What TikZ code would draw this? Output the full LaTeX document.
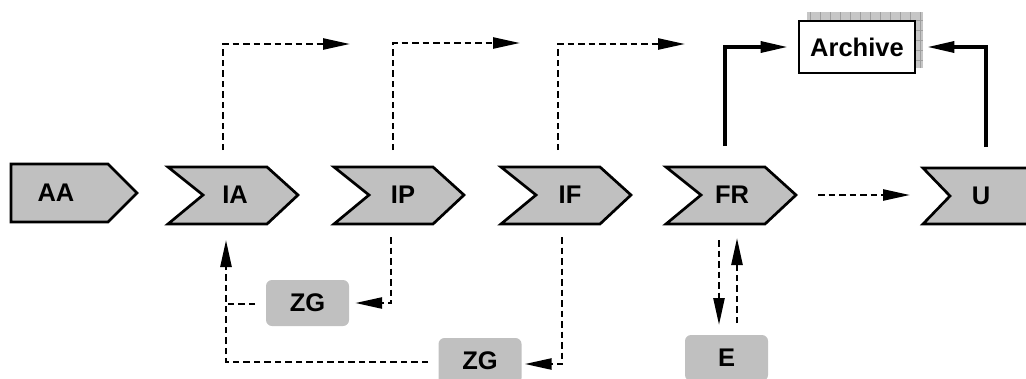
\documentclass[tikz,border=0pt]{standalone}
\usepackage{fontspec}
\setmainfont{Liberation Sans}
\usetikzlibrary{arrows.meta}
\definecolor{boxgray}{HTML}{C0C0C0}
\tikzset{
  lbl/.style={font=\fontsize{25.5}{28}\selectfont\bfseries, inner sep=0pt},
  chevshape/.style={draw=black, fill=boxgray, line width=2.7pt, line join=miter},
  gbox/.style={lbl, fill=boxgray, rounded corners=6pt, minimum width=83pt, minimum height=46pt},
  dconn/.style={line width=2.5pt, dash pattern=on 6.5pt off 4pt, -{Triangle[length=27pt,width=11pt]}},
  dline/.style={line width=2.5pt, dash pattern=on 6.5pt off 4pt},
  sconn/.style={line width=3.3pt, -{Triangle[length=27pt,width=11pt]}},
}
\newcommand\chevronat[1]{\path[chevshape] (#1,167) -- ++(99,0) -- ++(31,28) -- ++(-31,29) -- ++(-99,0) -- ++(35,-29) -- cycle;}
\begin{document}
\begin{tikzpicture}[x=1pt,y=-1pt]
\useasboundingbox (0,0) rectangle (1026,378);
% process shapes
\path[chevshape] (11,164) -- (108,164) -- (137,193) -- (108,222) -- (11,222) -- cycle;
\chevronat{168}
\chevronat{334}
\chevronat{501}
\chevronat{666}
\path[chevshape] (923,168) -- (1032,168) -- (1032,224) -- (923,224) -- (950,196) -- cycle;
\node[lbl] (AA) at (56,193) {AA};
\node[lbl] (IA) at (235,195) {IA};
\node[lbl] (IP) at (403,195) {IP};
\node[lbl] (IF) at (570,195) {IF};
\node[lbl] (FR) at (732,195) {FR};
\node[lbl] (U)  at (981,196) {U};
% archive
\fill[gray!45] (807,12) rectangle (923,68);
\draw[gray!75, line width=0.4pt, step=10pt] (807,12) grid (923,68);
\node[lbl, draw, fill=white, line width=2.7pt, minimum width=116pt, minimum height=52pt] (Ar) at (857,47) {Archive};
% grey boxes
\node[gbox] (ZG1) at (307.5,303) {ZG};
\node[gbox] (ZG2) at (480,361) {ZG};
\node[gbox] (E) at (726.5,358) {E};
% coordinates
\coordinate (IAup) at (223,150);  \coordinate (IAout) at (350,44);
\coordinate (IPup) at (393,150);  \coordinate (IPout) at (520,43);
\coordinate (IFup) at (558,150);  \coordinate (IFout) at (685,44);
\coordinate (FRup) at (725,146);
\coordinate (Uup) at (986,147);
\coordinate (FRr) at (818,195);   \coordinate (Ul) at (910,195);
\coordinate (IPdn) at (391,237);  \coordinate (IFdn) at (562,237);
\coordinate (IAin) at (226,240);
\coordinate (J1) at (226,304);    \coordinate (J2) at (226,362);
\coordinate (ZG1l) at (255,304);  \coordinate (ZG2l) at (428,362);
% dashed outputs
\draw[dconn] (IAup) |- (IAout);
\draw[dconn] (IPup) |- (IPout);
\draw[dconn] (IFup) |- (IFout);
% archive arrows
\draw[sconn, shorten >=10pt] (FRup) |- (Ar.west);
\draw[sconn, shorten >=11pt] (Uup) |- (Ar.east);
\draw[dconn] (FRr) -- (Ul);
% feedback
\draw[dconn] (IPdn) |- ([xshift=6pt]ZG1.east);
\draw[dconn] (IFdn) |- ([xshift=3pt,yshift=-3pt]ZG2.east);
\draw[dline] (ZG1l) -- (J1);
\draw[dconn] (ZG2l) -- (J2) -- (IAin);
% E
\draw[dconn] (719,240) -- (719,325);
\draw[dconn] (737,323) -- (737,238);
\end{tikzpicture}
\end{document}
